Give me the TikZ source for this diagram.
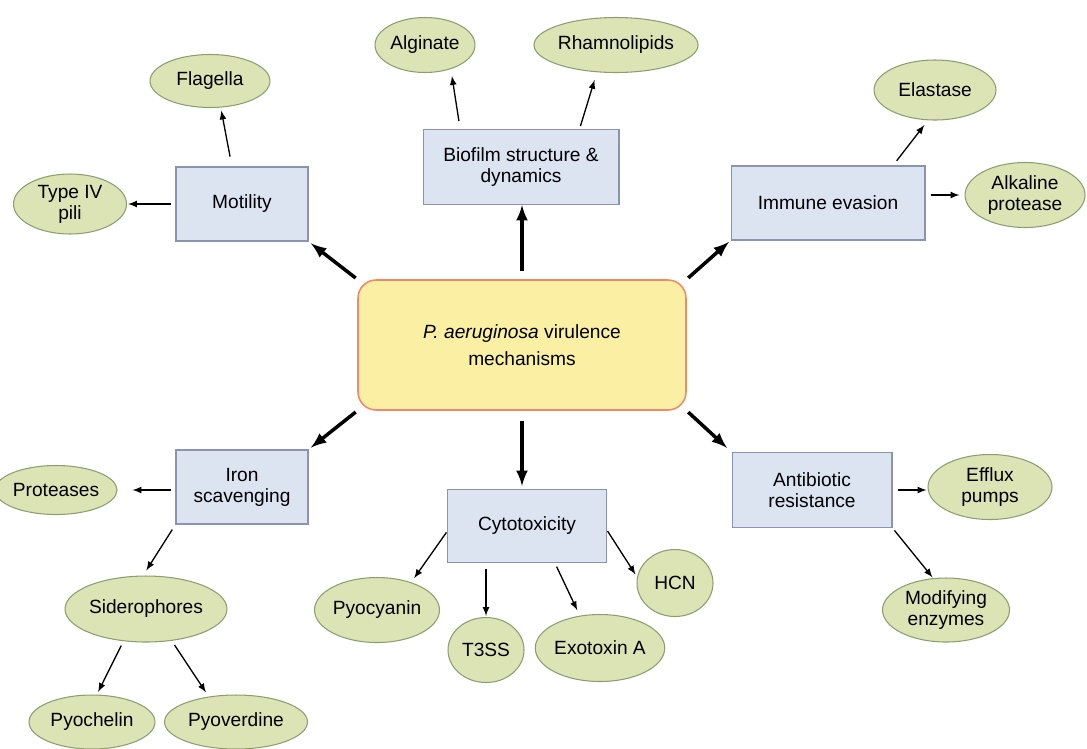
\documentclass[tikz,border=0pt]{standalone}
\usepackage{fontspec}
\setmainfont{Liberation Sans}
\usetikzlibrary{shapes.geometric}
\definecolor{corefill}{HTML}{FAEFA2}
\definecolor{coreline}{HTML}{EE8A6C}
\definecolor{blockfill}{HTML}{DCE3F1}
\definecolor{blockline}{HTML}{8A94B0}
\definecolor{leaffill}{HTML}{DCE4B6}
\definecolor{leafline}{HTML}{8F9C70}
\tikzset{
	core/.style   = {draw=coreline, fill=corefill, rectangle, rounded corners=0.36cm, line width=0.9pt, minimum width=6.56cm, minimum height=2.6cm, align=center, font=\fontsize{10.9}{15}\selectfont},
	block/.style  = {draw=blockline, fill=blockfill, rectangle, line width=0.6pt, minimum height=1.48cm, align=center, font=\fontsize{10.9}{12}\selectfont},
	leaf/.style   = {draw=leafline, fill=leaffill, ellipse, inner sep=0pt, line width=0.6pt, align=center, font=\fontsize{10.9}{12}\selectfont},
	major/.style  = {->, line width=2pt, shorten <=0.04cm, shorten >=0.06cm},
	minor/.style  = {->, line width=0.75pt, shorten <=0.1cm, shorten >=0.06cm},
}

\begin{document}
\begin{tikzpicture}[x=0.02cm, y=-0.02cm, >=latex]
	\useasboundingbox (0,0) rectangle (1087,748);
	% Draw the centre and the mechanism blocks
	\draw
	node[core                        ] (centre)    at (522,345) {\textit{P. aeruginosa} virulence\\mechanisms}
	node[block, minimum width=2.64cm ] (motility)  at (242,204) {Motility}
	node[block, minimum width=3.92cm, minimum height=1.5cm] (biofilm) at (521,167) {Biofilm structure \&\\dynamics}
	node[block, minimum width=3.88cm ] (immune)    at (828,203) {Immune evasion}
	node[block, minimum width=2.64cm ] (iron)      at (242,487) {Iron\\scavenging}
	node[block, minimum width=3.18cm, minimum height=1.46cm] (cyto) at (527,526) {Cytotoxicity}
	node[block, minimum width=3.2cm, minimum height=1.5cm] (anti) at (812,490) {Antibiotic\\resistance};

	% Draw the leaves
	\draw
	node[leaf, minimum width=2.4cm , minimum height=1.06cm] (flagella)   at (210,81)  {Flagella}
	node[leaf, minimum width=2.26cm, minimum height=1.2cm ] (typeiv)     at (70,204)  {Type IV\\pili}
	node[leaf, minimum width=2cm   , minimum height=1.1cm ] (alginate)   at (425,45)  {Alginate}
	node[leaf, minimum width=3.24cm, minimum height=1.1cm ] (rhamno)     at (616,45)  {Rhamnolipids}
	node[leaf, minimum width=2.44cm, minimum height=1.2cm ] (elastase)   at (935,90)  {Elastase}
	node[leaf, minimum width=2.4cm , minimum height=1.3cm ] (alkaline)   at (1025,195) {Alkaline\\protease}
	node[leaf, minimum width=2.24cm, minimum height=0.98cm] (proteases)  at (56,490)  {Proteases}
	node[leaf, minimum width=3.24cm, minimum height=1.32cm] (sidero)     at (146,609) {Siderophores}
	node[leaf, minimum width=2.52cm, minimum height=1.08cm] (pyochelin)  at (92,722)  {Pyochelin}
	node[leaf, minimum width=2.86cm, minimum height=1.08cm] (pyoverdine) at (236,722) {Pyoverdine}
	node[leaf, minimum width=2.5cm , minimum height=1.3cm ] (pyocyanin)  at (377,610) {Pyocyanin}
	node[leaf, minimum width=1.52cm, minimum height=1.3cm ] (t3ss)       at (486,650) {T3SS}
	node[leaf, minimum width=2.26cm, minimum height=1.34cm] (exotoxin)   at (600,648) {Exotoxin A}
	node[leaf, minimum width=1.52cm, minimum height=1.34cm] (hcn)        at (675,583) {HCN}
	node[leaf, minimum width=2.48cm, minimum height=1.3cm ] (efflux)     at (990,487) {Efflux\\pumps}
	node[leaf, minimum width=2.54cm, minimum height=1.28cm] (modifying)  at (946,610) {Modifying\\enzymes};

	% Connect the centre to the blocks
	\draw[major] (centre.north west) -- (motility.south east);
	\draw[major, shorten <=0.16cm, shorten >=0cm] (centre.north) -- (centre.north |- biofilm.south);
	\draw[major, shorten >=0.04cm] (centre.north east) -- (immune.south west);
	\draw[major] (centre.south west) -- (iron.north east);
	\draw[major, shorten <=0.2cm] (centre.south) -- (centre.south |- cyto.north);
	\draw[major, shorten >=0.12cm] (centre.south east) -- (anti.north west);

	% Connect the blocks to their leaves
	\draw[minor, shorten <=0.2cm] (motility.105) -- (flagella.-68);
	\draw[minor, shorten <=0.08cm, shorten >=0.02cm] (motility.west) -- (motility.west -| typeiv.east);
	\draw[minor, shorten <=0.16cm, shorten >=0.14cm] (biofilm.148) -- (alginate.-43);
	\draw[minor, shorten <=0.06cm, shorten >=0.16cm] (biofilm.33) -- (rhamno.-125);
	\draw[minor, shorten <=0.12cm, shorten >=0.12cm] (immune.30) -- (elastase.-103);
	\draw[minor, shorten >=0.1cm] (immune.east |- alkaline.west) -- (alkaline.west);
	\draw[minor, shorten <=0.08cm, shorten >=0.3cm] (iron.west |- proteases.east) -- (proteases.east);
	\draw[minor, shorten <=0.12cm, shorten >=0.12cm] (iron.south west) -- (sidero.95);
	\draw[minor] (sidero.-125) -- (pyochelin.80);
	\draw[minor, shorten >=0.1cm] (sidero.-51) -- (pyoverdine.137);
	\draw[minor, shorten <=0.02cm, shorten >=0.1cm] (cyto.184) -- (pyocyanin.39);
	\draw[minor, shorten <=0.12cm, shorten >=0.02cm] (cyto.south -| t3ss.north) -- (t3ss.north);
	\draw[minor, shorten <=0.08cm, shorten >=0.12cm] (cyto.-53) -- (exotoxin.122);
	\draw[minor, shorten <=0.02cm] (cyto.-3) -- (hcn.171);
	\draw[minor, shorten >=0.02cm] (anti.east) -- (anti.east -| efflux.west);
	\draw[minor, shorten <=0.06cm, shorten >=0.02cm] (anti.south east) -- (modifying.112);
\end{tikzpicture}
\end{document}
